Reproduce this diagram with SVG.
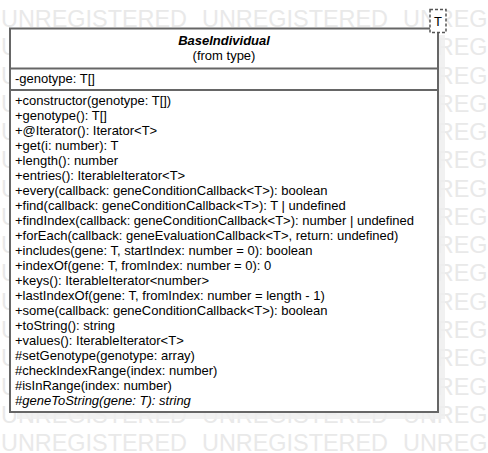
<svg xmlns="http://www.w3.org/2000/svg" width="488" height="453" viewBox="0 0 488 453">
<style>
.wm{font-family:"Liberation Sans",Arial,sans-serif;font-size:24px;fill:#e9e9e9}
.t{font-family:"Liberation Sans",Arial,sans-serif;font-size:13px;fill:#000}
.ln{stroke:#666;stroke-width:2;fill:none}
.box{stroke:#666;stroke-width:2;fill:#fff}
</style>
<rect width="488" height="453" fill="#fff"/>
<g id="watermark">
<g id="wmrow" class="wm">
<text x="1" y="27" textLength="186" lengthAdjust="spacingAndGlyphs">UNREGISTERED</text>
<text x="202" y="27" textLength="186" lengthAdjust="spacingAndGlyphs">UNREGISTERED</text>
<text x="403" y="27" textLength="186" lengthAdjust="spacingAndGlyphs">UNREGISTERED</text>
</g>
<use href="#wmrow" y="28.27"/>
<use href="#wmrow" y="56.54"/>
<use href="#wmrow" y="84.81"/>
<use href="#wmrow" y="113.08"/>
<use href="#wmrow" y="141.35"/>
<use href="#wmrow" y="169.62"/>
<use href="#wmrow" y="197.89"/>
<use href="#wmrow" y="226.16"/>
<use href="#wmrow" y="254.43"/>
<use href="#wmrow" y="282.7"/>
<use href="#wmrow" y="310.97"/>
<use href="#wmrow" y="339.24"/>
<use href="#wmrow" y="367.51"/>
<use href="#wmrow" y="395.78"/>
<use href="#wmrow" y="424.05"/>
</g>
<g id="BaseIndividual">
<rect x="17" y="35" width="428" height="384" fill="#eeeeee" fill-opacity="0.85"/>
<rect x="10" y="28.5" width="428" height="383.5" class="box"/>
<line x1="10" y1="68.5" x2="438" y2="68.5" class="ln"/>
<line x1="10" y1="90" x2="438" y2="90" class="ln"/>
<text class="t" x="224" y="45" text-anchor="middle" font-weight="bold" font-style="italic">BaseIndividual</text>
<text class="t" x="224" y="59.5" text-anchor="middle">(from type)</text>
<text class="t" x="15" y="82.5">-genotype: T[]</text>
<g class="t">
<text x="15" y="105">+constructor(genotype: T[])</text>
<text x="15" y="120">+genotype(): T[]</text>
<text x="15" y="135">+@Iterator(): Iterator&lt;T&gt;</text>
<text x="15" y="150">+get(i: number): T</text>
<text x="15" y="165">+length(): number</text>
<text x="15" y="180">+entries(): IterableIterator&lt;T&gt;</text>
<text x="15" y="195">+every(callback: geneConditionCallback&lt;T&gt;): boolean</text>
<text x="15" y="210">+find(callback: geneConditionCallback&lt;T&gt;): T | undefined</text>
<text x="15" y="225">+findIndex(callback: geneConditionCallback&lt;T&gt;): number | undefined</text>
<text x="15" y="240">+forEach(callback: geneEvaluationCallback&lt;T&gt;, return: undefined)</text>
<text x="15" y="255">+includes(gene: T, startIndex: number = 0): boolean</text>
<text x="15" y="270">+indexOf(gene: T, fromIndex: number = 0): 0</text>
<text x="15" y="285">+keys(): IterableIterator&lt;number&gt;</text>
<text x="15" y="300">+lastIndexOf(gene: T, fromIndex: number = length - 1)</text>
<text x="15" y="315">+some(callback: geneConditionCallback&lt;T&gt;): boolean</text>
<text x="15" y="330">+toString(): string</text>
<text x="15" y="345">+values(): IterableIterator&lt;T&gt;</text>
<text x="15" y="360">#setGenotype(genotype: array)</text>
<text x="15" y="375">#checkIndexRange(index: number)</text>
<text x="15" y="390">#isInRange(index: number)</text>
<text x="15" y="405" font-style="italic">#geneToString(gene: T): string</text>
</g>
</g>
<g id="template-T">
<rect x="430" y="9.5" width="16" height="23" fill="#fff" stroke="#555" stroke-width="1.5" stroke-dasharray="3 2"/>
<text class="t" x="438" y="25.5" text-anchor="middle">T</text>
</g>
<g id="connectors"/>
</svg>
